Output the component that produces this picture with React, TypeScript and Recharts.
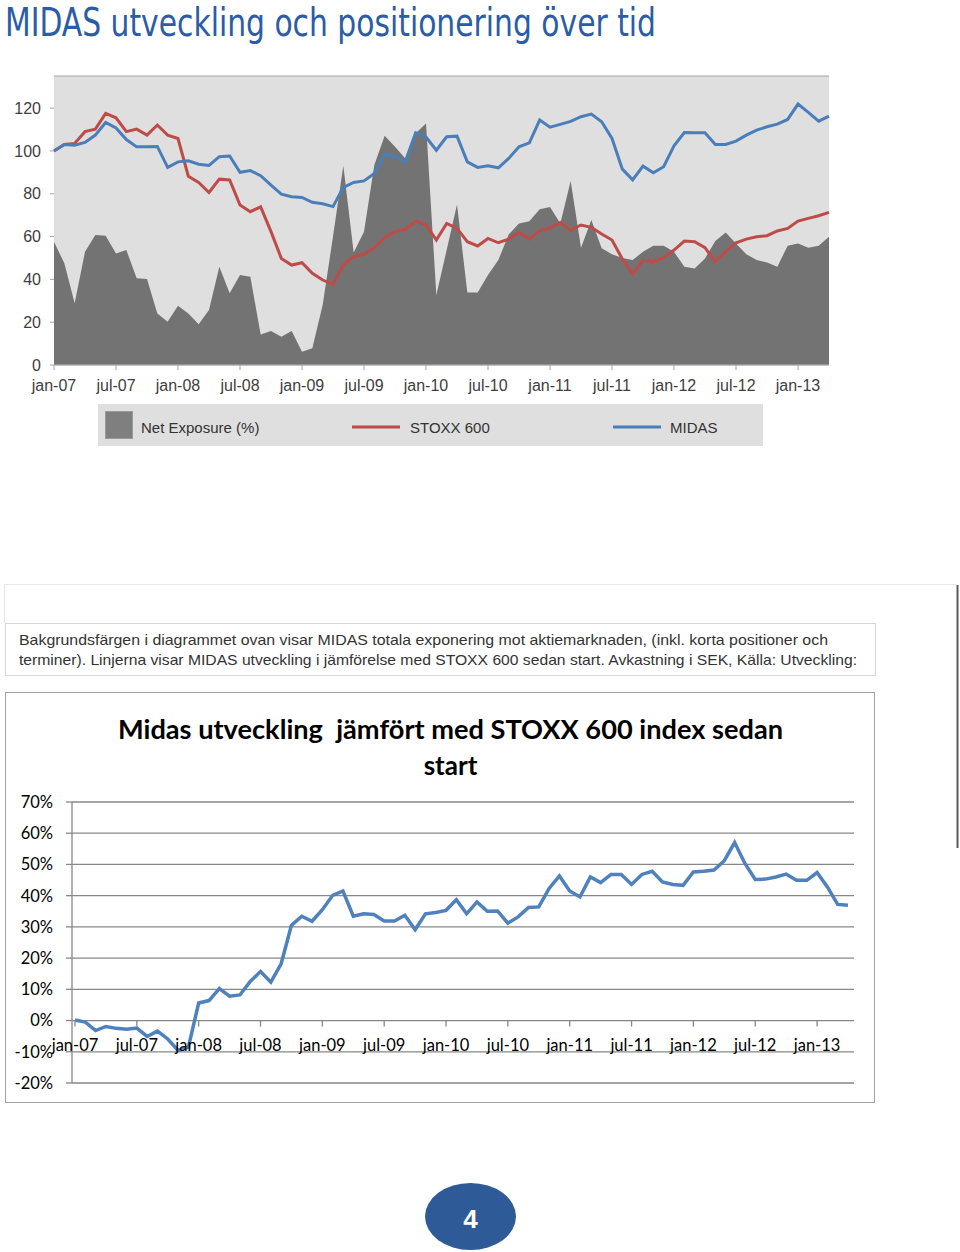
import React from 'react';
import { ComposedChart, LineChart, Area, Line, XAxis, YAxis, CartesianGrid } from 'recharts';

const MONTHS = [
  'jan-07','feb-07','mar-07','apr-07','maj-07','jun-07','jul-07','aug-07','sep-07','okt-07','nov-07','dec-07',
  'jan-08','feb-08','mar-08','apr-08','maj-08','jun-08','jul-08','aug-08','sep-08','okt-08','nov-08','dec-08',
  'jan-09','feb-09','mar-09','apr-09','maj-09','jun-09','jul-09','aug-09','sep-09','okt-09','nov-09','dec-09',
  'jan-10','feb-10','mar-10','apr-10','maj-10','jun-10','jul-10','aug-10','sep-10','okt-10','nov-10','dec-10',
  'jan-11','feb-11','mar-11','apr-11','maj-11','jun-11','jul-11','aug-11','sep-11','okt-11','nov-11','dec-11',
  'jan-12','feb-12','mar-12','apr-12','maj-12','jun-12','jul-12','aug-12','sep-12','okt-12','nov-12','dec-12',
  'jan-13','feb-13','mar-13','apr-13',
];

// Net exposure (%), left axis
const NET_EXPOSURE = [
  57.6, 47.5, 28.8, 52.9, 60.7, 60.4, 52.1, 53.7, 40.5, 40.2,
  24.1, 20.2, 27.7, 24.1, 19.0, 25.7, 45.9, 33.5, 42.0, 41.2,
  14.3, 15.9, 13.2, 15.9, 6.2, 7.8, 28.0, 60.0, 93.1, 52.6,
  62.3, 93.4, 107.1, 101.9, 96.5, 108.2, 112.8, 32.7, 53.7, 75.0,
  33.9, 33.9, 42.0, 49.0, 61.0, 66.1, 67.2, 72.8, 73.8, 66.1,
  85.9, 54.8, 67.7, 54.5, 51.7, 50.0, 49.0, 52.9, 55.7, 55.7,
  52.9, 45.9, 45.1, 49.8, 57.9, 61.9, 56.8, 51.7, 49.0, 47.9,
  45.9, 55.7, 56.8, 54.8, 55.7, 59.9,
];

// STOXX 600 indexed to 100
const STOXX_600 = [
  100, 103.0, 103.5, 109.0, 110.2, 117.5, 115.5, 109.0, 110.2, 107.4,
  112.1, 107.4, 105.8, 88.2, 85.3, 80.6, 86.8, 86.4, 74.7, 71.6,
  73.9, 62.3, 49.8, 46.7, 47.8, 42.8, 39.7, 37.7, 46.7, 50.6,
  51.7, 54.8, 59.5, 62.3, 63.3, 67.2, 65.5, 58.4, 66.1, 63.8,
  57.6, 55.6, 59.1, 57.1, 58.8, 61.9, 58.8, 62.6, 64.1, 66.6,
  63.0, 65.4, 64.3, 61.2, 58.4, 49.5, 42.4, 49.0, 48.2, 50.1,
  53.7, 57.9, 57.6, 54.8, 48.2, 52.9, 57.1, 58.8, 59.9, 60.4,
  62.6, 63.8, 67.2, 68.5, 69.7, 71.3,
];

// MIDAS indexed to 100
const MIDAS_INDEX = [
  100, 103.0, 102.7, 104.0, 107.4, 113.3, 110.7, 105.3, 101.9, 101.9,
  102.1, 92.3, 94.9, 95.4, 93.8, 93.2, 97.3, 97.6, 90.0, 90.8,
  88.4, 84.0, 79.8, 78.6, 78.3, 76.0, 75.3, 74.0, 83.0, 85.3,
  86.0, 89.5, 98.5, 97.3, 95.0, 108.5, 106.5, 100.3, 106.6, 106.9,
  94.9, 92.3, 93.1, 92.1, 96.5, 101.9, 103.8, 114.4, 111.1, 112.4,
  113.8, 116.0, 117.2, 113.6, 105.8, 91.5, 86.5, 92.9, 89.8, 92.6,
  102.4, 108.6, 108.5, 108.5, 103.0, 103.0, 104.6, 107.4, 109.7, 111.3,
  112.5, 114.7, 121.9, 118.0, 113.9, 116.3,
];

// MIDAS vs STOXX 600 since start (%)
const MIDAS_VS_STOXX = [
  0.2, -0.5, -3.2, -1.9, -2.5, -2.8, -2.4, -5.1, -3.4, -5.9,
  -9.6, -8.5, 5.6, 6.4, 10.2, 7.8, 8.2, 12.5, 15.7, 12.3,
  18.2, 30.5, 33.4, 31.8, 35.5, 40.1, 41.5, 33.4, 34.2, 34.0,
  31.9, 31.9, 33.7, 29.1, 34.2, 34.6, 35.3, 38.7, 34.2, 38.0,
  35.0, 35.1, 31.2, 33.2, 36.2, 36.4, 42.3, 46.3, 41.5, 39.6,
  46.0, 44.2, 46.8, 46.8, 43.6, 46.8, 47.8, 44.4, 43.6, 43.3,
  47.6, 47.8, 48.2, 51.2, 57.0, 50.3, 45.2, 45.3, 46.0, 46.9,
  44.9, 44.9, 47.4, 42.8, 37.2, 36.9,
];

const LEFT_TICKS = [0, 20, 40, 60, 80, 100, 120];
const LEFT_DOMAIN: [number, number] = [0, 135];
const RIGHT_TICKS = [-60, -40, -20, 0];
const RIGHT_TICK_LABELS: Record<string, string> = { '0': '0', '-20': '-20 %', '-40': '-40%', '-60': '' };
// right axis: index 100 <-> 0 %, 30 index points <-> 20 %
const RIGHT_DOMAIN: [number, number] = [
  ((LEFT_DOMAIN[0] - 100) * 2) / 3,
  ((LEFT_DOMAIN[1] - 100) * 2) / 3,
];
const BOTTOM_TICKS = [-20, -10, 0, 10, 20, 30, 40, 50, 60, 70];
const BOTTOM_DOMAIN: [number, number] = [-20, 70];

const LEGEND_LABELS = ['Net Exposure (%)', 'STOXX 600', 'MIDAS'];
const TITLE = 'MIDAS utveckling och positionering över tid';
const NOTE_LINES = [
  'Bakgrundsfärgen i diagrammet ovan visar MIDAS totala exponering mot aktiemarknaden, (inkl. korta positioner och',
  'terminer). Linjerna visar MIDAS utveckling i jämförelse med STOXX 600 sedan start. Avkastning i SEK, Källa: Utveckling:',
];
const CHART2_TITLE = ['Midas utveckling  jämfört med STOXX 600 index sedan', 'start'];

const topData = MONTHS.map((m, i) => ({
  month: m,
  exposure: NET_EXPOSURE[i],
  stoxx: STOXX_600[i],
  midas: MIDAS_INDEX[i],
}));
const bottomData = MONTHS.map((m, i) => ({ month: m, value: MIDAS_VS_STOXX[i] }));

const SANS = "'Liberation Sans', Arial, sans-serif";
const NARROW = "'Liberation Sans Narrow', 'DejaVu Sans Condensed', 'Liberation Sans', sans-serif";
const CAL = "Lato, 'Open Sans', sans-serif";

const RED = '#BE4B48';
const BLUE = '#4A7EBB';

// bottom chart geometry
const B_TOP = 22;
const B_HEIGHT = 330;
const B_XH = 27;
const B_PLOT_H = B_HEIGHT - B_TOP - B_XH;
const ZERO_OFFSET = (B_PLOT_H * (0 - BOTTOM_DOMAIN[0])) / (BOTTOM_DOMAIN[1] - BOTTOM_DOMAIN[0]);

const renderBottomTick = (props: any) => {
  const { x, y, payload } = props;
  const zy = y - ZERO_OFFSET;
  return (
    <g>
      <line x1={x} x2={x} y1={zy} y2={zy + 6} stroke="#878787" strokeWidth={1.3} />
      <text x={x} y={zy + 30} textAnchor="middle" fill="#000" fontSize={16.5} fontFamily={CAL}>
        {payload.value}
      </text>
    </g>
  );
};

export default function App() {
  return (
    <div
      style={{
        position: 'absolute',
        left: 0,
        top: 0,
        width: 960,
        height: 1252,
        background: '#fff',
        overflow: 'hidden',
      }}
    >
      <svg width={960} height={1252} style={{ position: 'absolute', left: 0, top: 0 }}>
        <text
          x={5}
          y={35.5}
          fontFamily={NARROW}
          fontSize={39}
          fill="#2B5CA7"
          textLength={651}
          lengthAdjust="spacingAndGlyphs"
        >
          {TITLE}
        </text>

        {/* legend */}
        <rect x={98} y={404} width={665} height={42} fill="#DFDFDF" />
        <rect x={105.5} y={411.5} width={27} height={27} fill="#7F7F7F" stroke="#9A9A9A" />
        <text x={141} y={432.5} fontFamily={SANS} fontSize={15} fill="#333">{LEGEND_LABELS[0]}</text>
        <line x1={352} x2={400} y1={427} y2={427} stroke={RED} strokeWidth={3} />
        <text x={410} y={432.5} fontFamily={SANS} fontSize={15} fill="#333">{LEGEND_LABELS[1]}</text>
        <line x1={613} x2={661} y1={427} y2={427} stroke={BLUE} strokeWidth={3} />
        <text x={670} y={432.5} fontFamily={SANS} fontSize={15} fill="#333">{LEGEND_LABELS[2]}</text>

        {/* faint frame and right edge line */}
        <line x1={4.5} x2={957} y1={584.5} y2={584.5} stroke="#E6E6E6" />
        <line x1={4.5} x2={4.5} y1={584.5} y2={623} stroke="#E6E6E6" />
        <line x1={957.5} x2={957.5} y1={585} y2={848} stroke="#5A5A5A" strokeWidth={2} />

        {/* note box */}
        <rect x={5.5} y={623.5} width={870} height={52} fill="#fff" stroke="#D6D6D6" />
        <text x={19} y={645} fontFamily={SANS} fontSize={15} fill="#333" textLength={809} lengthAdjust="spacingAndGlyphs">
          {NOTE_LINES[0]}
        </text>
        <text x={19} y={664.5} fontFamily={SANS} fontSize={15} fill="#333" textLength={838} lengthAdjust="spacingAndGlyphs">
          {NOTE_LINES[1]}
        </text>

        {/* bottom chart frame and title */}
        <rect x={5.5} y={692.5} width={869} height={410} fill="none" stroke="#A3A3A3" />
        <text
          x={450.5}
          y={738.5}
          textAnchor="middle"
          fontFamily={CAL}
          fontWeight={700}
          fontSize={26}
          fill="#000"
          textLength={665}
          lengthAdjust="spacingAndGlyphs"
          xmlSpace="preserve"
          style={{ whiteSpace: 'pre' }}
        >
          {CHART2_TITLE[0]}
        </text>
        <text x={450.5} y={775} textAnchor="middle" fontFamily={CAL} fontWeight={700} fontSize={26} fill="#000">
          {CHART2_TITLE[1]}
        </text>

        {/* page number */}
        <ellipse cx={470.5} cy={1216.5} rx={45.5} ry={33.5} fill="#2E5B97" />
        <text x={470.5} y={1228} textAnchor="middle" fontFamily={SANS} fontWeight={700} fontSize={26} fill="#fff">
          4
        </text>
      </svg>

      <div style={{ position: 'absolute', left: 0, top: 60 }}>
        <ComposedChart width={880} height={335} data={topData} margin={{ top: 16, right: 0, bottom: 0, left: 0 }}>
          <CartesianGrid vertical={false} fill="#DFDFDF" stroke="#A6A6A6" strokeWidth={1} />
          <XAxis
            dataKey="month"
            scale="point"
            interval={5}
            height={30}
            tickSize={5}
            tickMargin={10}
            axisLine={{ stroke: '#B5B5B5' }}
            tickLine={{ stroke: '#A6A6A6' }}
            tick={{ fill: '#404040', fontSize: 16, fontFamily: SANS }}
          />
          <YAxis
            yAxisId="left"
            domain={LEFT_DOMAIN}
            ticks={LEFT_TICKS}
            width={54}
            axisLine={false}
            tickSize={4}
            tickMargin={9}
            tickLine={{ stroke: '#A6A6A6' }}
            tick={{ fill: '#404040', fontSize: 16, fontFamily: SANS }}
          />
          <YAxis
            orientation="right"
            domain={RIGHT_DOMAIN}
            ticks={RIGHT_TICKS}
            width={51}
            axisLine={false}
            tickSize={3}
            tickMargin={4}
            tickLine={{ stroke: '#A6A6A6' }}
            tickFormatter={(v: number) => RIGHT_TICK_LABELS[String(v)] ?? ''}
            tick={{ fill: '#404040', fontSize: 15, fontFamily: SANS }}
          />
          <Area
            yAxisId="left"
            dataKey="exposure"
            type="linear"
            fill="#737373"
            fillOpacity={1}
            stroke="none"
            isAnimationActive={false}
          />
          <Line
            yAxisId="left"
            dataKey="stoxx"
            type="linear"
            stroke={RED}
            strokeWidth={3}
            dot={false}
            isAnimationActive={false}
          />
          <Line
            yAxisId="left"
            dataKey="midas"
            type="linear"
            stroke={BLUE}
            strokeWidth={3}
            dot={false}
            isAnimationActive={false}
          />
        </ComposedChart>
      </div>

      <div style={{ position: 'absolute', left: 0, top: 780 }}>
        <LineChart
          width={880}
          height={B_HEIGHT}
          data={bottomData}
          margin={{ top: B_TOP, right: 26, bottom: 0, left: 0 }}
        >
          <CartesianGrid vertical={false} stroke="#878787" strokeWidth={1.3} />
          <XAxis
            dataKey="month"
            scale="point"
            interval={5}
            height={B_XH}
            padding={{ left: 3, right: 6 }}
            axisLine={false}
            tickLine={false}
            tickSize={0}
            tickMargin={0}
            tick={renderBottomTick}
          />
          <YAxis
            domain={BOTTOM_DOMAIN}
            ticks={BOTTOM_TICKS}
            width={72}
            axisLine={{ stroke: '#878787', strokeWidth: 1.3 }}
            tickLine={{ stroke: '#878787', strokeWidth: 1.3 }}
            tickSize={6}
            tickMargin={13}
            tickFormatter={(v: number) => `${v}%`}
            tick={{ fill: '#000', fontSize: 16.5, fontFamily: CAL }}
          />
          <Line
            dataKey="value"
            type="linear"
            stroke="#4F81BD"
            strokeWidth={3.5}
            dot={false}
            isAnimationActive={false}
          />
        </LineChart>
      </div>
    </div>
  );
}
